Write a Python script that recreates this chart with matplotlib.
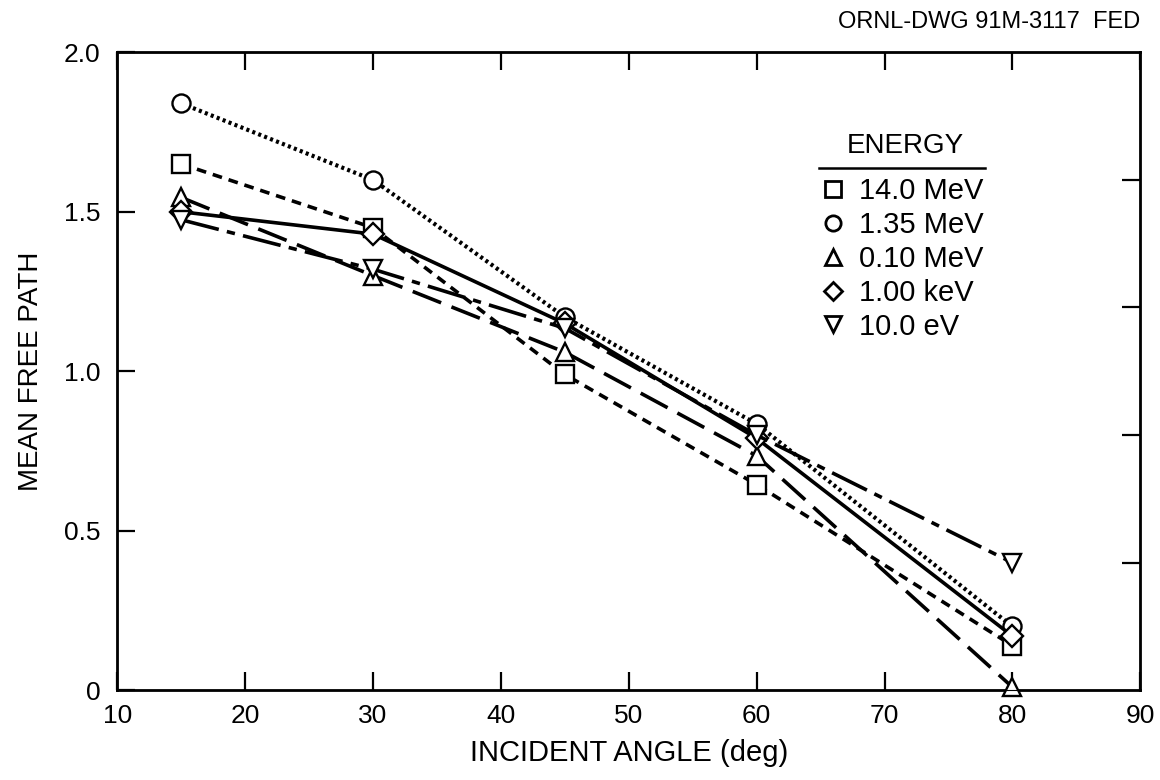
import numpy as np
import matplotlib
matplotlib.use("Agg")
import matplotlib.pyplot as plt
from matplotlib.lines import Line2D

plt.rcParams['font.family'] = ['Liberation Sans', 'DejaVu Sans']
plt.rcParams['lines.scale_dashes'] = False

# incident angle (deg)
angles = [15, 30, 45, 60, 80]

# mean free path for each source energy
mfp_14mev = [1.65, 1.45, 0.99, 0.645, 0.14]
mfp_135mev = [1.84, 1.60, 1.17, 0.835, 0.20]
mfp_010mev = [1.545, 1.30, 1.06, 0.735, 0.01]
mfp_1kev = [1.50, 1.43, 1.15, 0.79, 0.17]
mfp_10ev = [1.475, 1.32, 1.135, 0.80, 0.40]

energy_labels = ['14.0 MeV', '1.35 MeV', '0.10 MeV', '1.00 keV', '10.0 eV']
x_ticks = [10, 20, 30, 40, 50, 60, 70, 80, 90]
y_ticks = [0, 0.5, 1.0, 1.5, 2.0]
y_ticklabels = ['0', '0.5', '1.0', '1.5', '2.0']
right_ticks = [0.4, 0.8, 1.2, 1.6]

fig = plt.figure(figsize=(11.6, 7.8), dpi=100)
ax = fig.add_axes([0.101, 0.115, 0.882, 0.818])

series = [
    (mfp_14mev, 's', (0, (7, 5)), 2.6),
    (mfp_135mev, 'o', (0, (2.2, 2.4)), 3.0),
    (mfp_010mev, '^', (0, (22, 8)), 2.6),
    (mfp_1kev, 'D', '-', 2.6),
    (mfp_10ev, 'v', (0, (28, 6, 6, 6)), 2.6),
]

handles = []
for vals, mk, ls, lw in series:
    ms = 11 if mk == 'D' else 13
    ax.plot(angles, vals, color='black', linestyle=ls, linewidth=lw,
            marker=mk, markersize=ms, markerfacecolor='white',
            markeredgecolor='black', markeredgewidth=1.7, clip_on=False,
            zorder=3)
    handles.append(Line2D([], [], linestyle='none', marker=mk,
                          markersize=ms - 2, markerfacecolor='white',
                          markeredgecolor='black', markeredgewidth=2.0))

ax.set_xlim(10, 90)
ax.set_ylim(0, 2.0)
ax.set_xticks(x_ticks)
ax.set_yticks(y_ticks)
ax.set_yticklabels(y_ticklabels)
ax.tick_params(axis='both', direction='in', length=13, width=1.6,
               labelsize=19, top=True)
ax.tick_params(axis='x', pad=10)
ax.tick_params(axis='y', pad=12)
for sp in ax.spines.values():
    sp.set_linewidth(2.0)

ax2 = ax.twinx()
ax2.set_ylim(0, 2.0)
ax2.set_yticks(right_ticks)
ax2.set_yticklabels([])
ax2.tick_params(axis='y', direction='in', length=13, width=1.6)

ax.set_xlabel('INCIDENT ANGLE (deg)', fontsize=21, labelpad=8)
ax.set_ylabel('MEAN FREE PATH', fontsize=20, labelpad=14)

# legend with a separate underlined title
ax.text(0.770, 0.853, 'ENERGY', transform=ax.transAxes, ha='center',
        va='center', fontsize=20)
ax.add_line(Line2D([0.686, 0.848], [0.818, 0.818], transform=ax.transAxes,
                   color='black', linewidth=1.8))
leg = ax.legend(handles, energy_labels, loc='upper left',
                bbox_to_anchor=(0.668, 0.836), frameon=False, fontsize=21,
                handlelength=0.8, handletextpad=0.5,
                labelspacing=0.2, borderpad=0.2)

fig.text(0.983, 0.972, 'ORNL-DWG 91M-3117  FED', ha='right', va='center',
         fontsize=17)

fig.savefig('out.png', dpi=100)
